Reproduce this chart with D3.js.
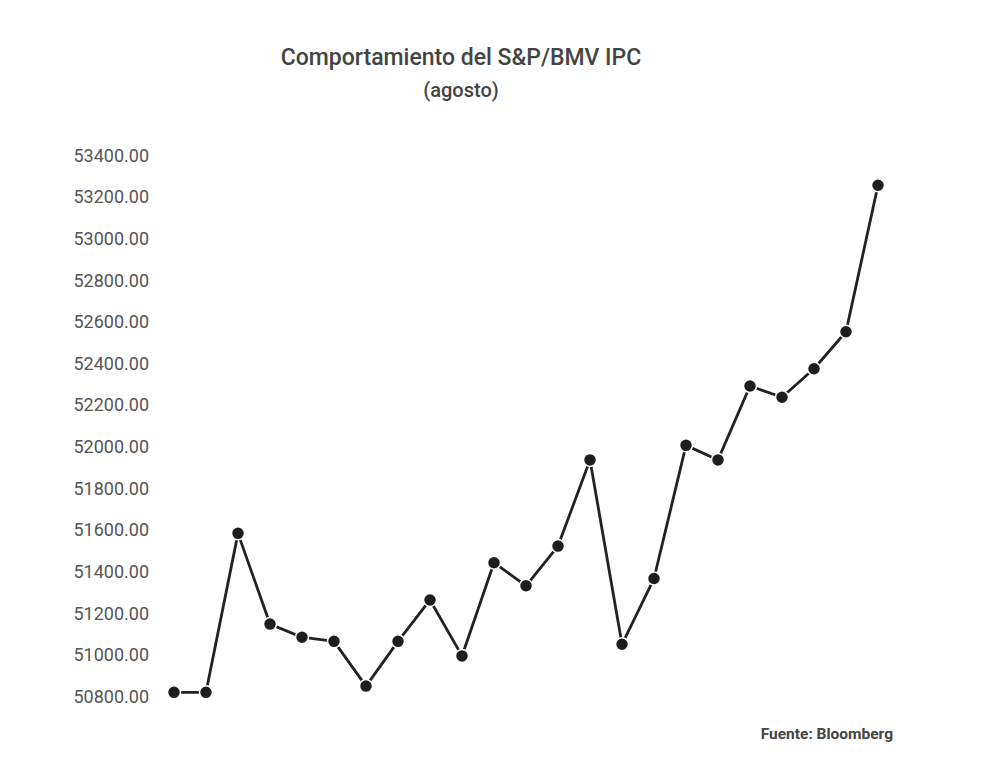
<!DOCTYPE html>
<html>
<head>
<meta charset="utf-8">
<script src="https://cdn.jsdelivr.net/npm/d3@7"></script>
<style>
  body { margin: 0; background: #fff; }
  text { font-family: Roboto, "Noto Sans", sans-serif; }
</style>
</head>
<body>
<div id="chart"></div>
<script>
// Line: Comportamiento del S&P/BMV IPC (agosto)
const width = 1000, height = 762;
const margin = {top: 155.5, right: 122, bottom: 65.5, left: 174};

const puntos = d3.range(1, 24);
const valores = [50820, 50820, 51584, 51148, 51085, 51065, 50850, 51065, 51264, 50995,
  51443, 51332, 51523, 51937, 51051, 51367, 52007, 51937, 52292, 52238,
  52375, 52553, 53257];
const yTicks = d3.range(50800, 53401, 200);

const svg = d3.select("#chart").append("svg")
  .attr("width", width).attr("height", height);

const x = d3.scalePoint().domain(puntos)
  .range([margin.left, width - margin.right]);
const y = d3.scaleLinear().domain([50800, 53400])
  .range([height - margin.bottom, margin.top]);

// title
svg.append("text").attr("x", 461).attr("y", 65)
  .attr("text-anchor", "middle").attr("font-size", 23).attr("font-weight", 500)
  .attr("fill", "#444").text("Comportamiento del S&P/BMV IPC");
svg.append("text").attr("x", 461).attr("y", 97)
  .attr("text-anchor", "middle").attr("font-size", 20).attr("font-weight", 500)
  .attr("fill", "#444").text("(agosto)");

// y axis labels only
const yAxis = svg.append("g").attr("transform", "translate(149,0)")
  .call(d3.axisLeft(y).tickValues(yTicks).tickSize(0).tickPadding(0)
    .tickFormat(d => d.toFixed(2)));
yAxis.select(".domain").remove();
yAxis.selectAll("text").attr("font-size", 18).attr("fill", "#555")
  .attr("font-family", "Roboto, sans-serif");

// line
const line = d3.line().x((d, i) => x(puntos[i])).y(d => y(d));
svg.append("path").datum(valores)
  .attr("d", line).attr("fill", "none")
  .attr("stroke", "#222").attr("stroke-width", 2.8).attr("stroke-linejoin", "round");

svg.selectAll("circle.pt").data(valores).join("circle")
  .attr("class", "pt")
  .attr("cx", (d, i) => x(puntos[i])).attr("cy", d => y(d))
  .attr("r", 6.5).attr("fill", "#1e1e1e")
  .attr("stroke", "#fff").attr("stroke-width", 1.5);

// source
svg.append("text").attr("x", 893).attr("y", 739)
  .attr("text-anchor", "end").attr("font-size", 15.5).attr("font-weight", "bold")
  .attr("fill", "#444").text("Fuente: Bloomberg");
</script>
</body>
</html>
